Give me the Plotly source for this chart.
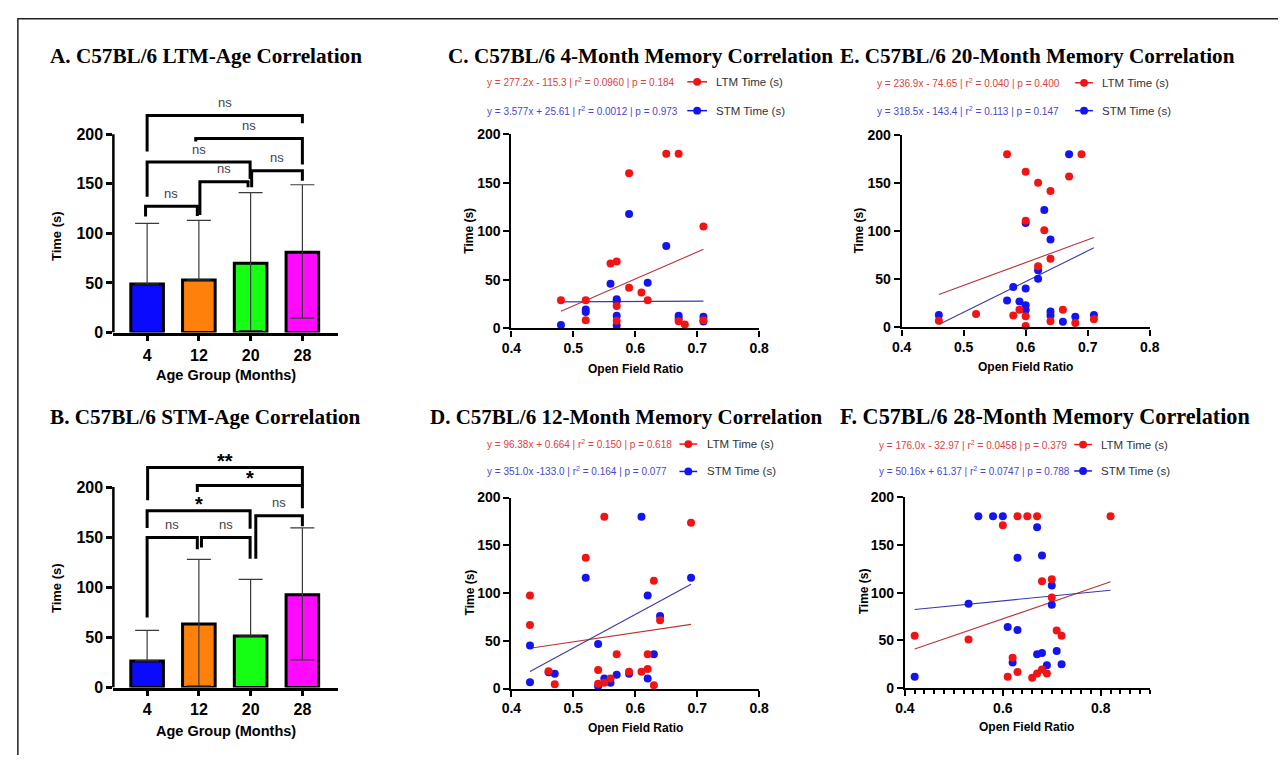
import plotly.graph_objects as go

W, H = 1288, 764


def px(x):
    return x / W


def py(y):
    return 1 - y / H


SERIF = "Liberation Serif, Times New Roman, serif"
SANS = "Liberation Sans, Arial, sans-serif"

# ---------------- data ----------------
age_groups = ["4", "12", "20", "28"]
age_pos = [0, 1, 2, 3]
bar_colors = ["#0a0aff", "#ff800a", "#14ff14", "#ff0aff"]

ltm_mean = [49, 53, 70, 81]
ltm_err_up = [61, 60, 71, 68]
ltm_err_down = [0, 0, 68, 66.5]

stm_mean = [26.6, 63.4, 51.4, 92.7]
stm_err_up = [30.4, 64.4, 56.6, 66.6]
stm_err_down = [0, 61.8, 0, 65.1]

# significance brackets: (left group, right group, bracket height, left leg end, right leg end, label)
ltm_brackets = [
    (0.0, 3.0, 218.7, 182.6, 211.0, "ns"),
    (0.94, 3.0, 195.7, 192.5, 169.5, "ns"),
    (0.0, 1.99, 172.0, 137.0, 154.7, "ns"),
    (2.02, 3.0, 163.0, 146.5, 153.0, "ns"),
    (1.02, 1.95, 152.0, 118.5, 146.5, "ns"),
    (-0.03, 0.97, 127.4, 117.0, 117.5, "ns"),
]
stm_brackets = [
    (0.01, 3.0, 219.5, 187.0, 201.6, "**"),
    (0.97, 3.0, 201.6, 195.0, 178.8, "*"),
    (0.0, 1.99, 176.3, 159.3, 158.4, "*"),
    (2.1, 3.0, 171.4, 128.5, 161.0, "ns"),
    (0.0, 0.97, 149.6, 70.0, 138.0, "ns"),
    (1.05, 1.99, 149.6, 139.8, 128.5, "ns"),
]

# 4-month
c_ltm_x = [0.48, 0.52, 0.52, 0.56, 0.57, 0.57, 0.57, 0.59, 0.59, 0.61, 0.62, 0.65, 0.67, 0.67, 0.68, 0.71, 0.71]
c_ltm_y = [29, 29, 8.5, 67, 69, 23, 8, 160, 42, 37, 29, 180, 180, 7.5, 4, 105, 8.5]
c_stm_x = [0.48, 0.52, 0.52, 0.56, 0.57, 0.57, 0.57, 0.57, 0.59, 0.62, 0.65, 0.67, 0.67, 0.71, 0.71]
c_stm_y = [3.5, 19.5, 17, 46, 30, 28, 13, 3, 118, 47, 85, 13, 10, 12, 7]
c_fit = {"ltm": (277.2, -115.3), "stm": (3.577, 25.61)}
c_eq = ["y = 277.2x - 115.3 | r<sup>2</sup> = 0.0960 | p = 0.184",
        "y = 3.577x + 25.61 | r<sup>2</sup> = 0.0012 | p = 0.973"]

# 12-month
d_ltm_x = [0.43, 0.43, 0.46, 0.47, 0.52, 0.54, 0.54, 0.55, 0.55, 0.56, 0.57, 0.59, 0.61, 0.62, 0.62, 0.63, 0.63, 0.64, 0.69]
d_ltm_y = [97.5, 66.5, 18, 4.5, 137, 19.5, 5, 180, 6, 10.5, 36, 17.5, 17.5, 36, 20.5, 113, 3.5, 71.5, 173.5]
d_stm_x = [0.43, 0.43, 0.46, 0.47, 0.52, 0.54, 0.54, 0.55, 0.56, 0.57, 0.59, 0.61, 0.62, 0.62, 0.63, 0.64, 0.69]
d_stm_y = [45, 6.5, 17, 15.5, 116, 46.5, 2.5, 10.5, 6, 14.5, 15.5, 180, 97.5, 10.5, 36, 76, 116]
d_fit = {"ltm": (96.38, 0.664), "stm": (351.0, -133.0)}
d_eq = ["y = 96.38x + 0.664 | r<sup>2</sup> = 0.150 | p = 0.618",
        "y = 351.0x -133.0 | r<sup>2</sup> = 0.164 | p = 0.077"]

# 20-month
e_ltm_x = [0.46, 0.52, 0.57, 0.58, 0.59, 0.60, 0.60, 0.60, 0.60, 0.62, 0.62, 0.63, 0.64, 0.64, 0.64, 0.66, 0.67, 0.68, 0.69, 0.71]
e_ltm_y = [7, 14, 180, 12.5, 18.5, 162, 111, 11.5, 1.5, 150.5, 63.5, 101, 142, 71.5, 6.5, 18.5, 157, 4.5, 180, 8.5]
e_stm_x = [0.46, 0.57, 0.58, 0.59, 0.60, 0.60, 0.60, 0.60, 0.62, 0.62, 0.63, 0.64, 0.64, 0.64, 0.66, 0.67, 0.68, 0.71]
e_stm_y = [13, 28, 42, 27, 40.5, 23, 18, 108.5, 59.5, 50.5, 122, 91.5, 16.5, 12.5, 6, 180, 11, 13]
e_fit = {"ltm": (236.9, -74.65), "stm": (318.5, -143.4)}
e_eq = ["y = 236.9x - 74.65 | r<sup>2</sup> = 0.040 | p = 0.400",
        "y = 318.5x - 143.4 | r<sup>2</sup> = 0.113 | p = 0.147"]

# 28-month
f_ltm_x = [0.42, 0.53, 0.60, 0.61, 0.62, 0.63, 0.63, 0.65, 0.66, 0.67, 0.67, 0.68, 0.68, 0.69, 0.70, 0.70, 0.71, 0.72, 0.82]
f_ltm_y = [55, 51, 170.5, 12, 32, 180, 17, 180, 11, 180, 15.5, 112, 19.5, 15.5, 114, 95, 60.5, 55, 180]
f_stm_x = [0.42, 0.53, 0.55, 0.58, 0.60, 0.61, 0.62, 0.63, 0.63, 0.67, 0.67, 0.68, 0.68, 0.69, 0.70, 0.70, 0.71, 0.72]
f_stm_y = [12, 88.5, 180, 180, 180, 64, 27, 136.5, 61, 168.5, 35.5, 139, 37, 24, 107.5, 87.5, 39, 25]
f_fit = {"ltm": (176.0, -32.97), "stm": (50.16, 61.37)}
f_eq = ["y = 176.0x - 32.97 | r<sup>2</sup> = 0.0458 | p = 0.379",
        "y = 50.16x + 61.37 | r<sup>2</sup> = 0.0747 | p = 0.788"]

series_labels = ["LTM Time (s)", "STM Time (s)"]

# ---------------- styles ----------------
RED = "#f01414"
BLUE = "#1414f0"
RED_FIT = "#b8353a"
BLUE_FIT = "#3a3aa8"
RED_TXT = "#dc4040"
BLUE_TXT = "#4848cc"

fig = go.Figure()
shapes = []
annotations = []

# ---------------- bar panels ----------------
bar_panels = [
    # axis suffix, means, up, down, brackets, x px domain, y0 px, px per unit
    ("", ltm_mean, ltm_err_up, ltm_err_down, ltm_brackets, (105, 333), 332, 1.015),
    ("2", stm_mean, stm_err_up, stm_err_down, stm_brackets, (105, 333), 695, 1.025),
]
BAR_YMAX = 240
for sfx, means, up, down, brackets, xd, y0px, ppu in bar_panels:
    fig.add_trace(go.Bar(
        x=age_pos, y=means, width=0.63,
        marker=dict(color=bar_colors, line=dict(color="black", width=3)),
        error_y=dict(type="data", symmetric=False, array=up, arrayminus=down,
                     color="#3a3a3a", thickness=1.2, width=12),
        xaxis="x" + sfx, yaxis="y" + sfx, showlegend=False,
    ))
    top_px = y0px - BAR_YMAX * ppu
    fig.update_layout(**{
        "xaxis" + sfx: dict(domain=[px(xd[0]), px(xd[1])], range=[-0.652, 3.685],
                            anchor="y" + sfx, tickvals=age_pos, ticktext=age_groups,
                            showline=True, linecolor="black", linewidth=2.5,
                            ticks="outside", ticklen=6, tickwidth=2.5, tickcolor="black",
                            tickfont=dict(family=SANS, size=16, color="black", weight="bold"),
                            showgrid=False, zeroline=False, fixedrange=True),
        "yaxis" + sfx: dict(domain=[py(y0px), py(top_px)], range=[0, BAR_YMAX],
                            anchor="x" + sfx, tickvals=[0, 50, 100, 150, 200],
                            showline=False, ticks="outside", ticklen=6, tickwidth=2.5,
                            tickcolor="black",
                            tickfont=dict(family=SANS, size=16, color="black", weight="bold"),
                            showgrid=False, zeroline=False, fixedrange=True),
    })
    xr = "x" + sfx
    yr = "y" + sfx
    shapes.append(dict(type="line", xref=xr + " domain", yref=yr, x0=0, x1=0, y0=0, y1=200,
                       line=dict(color="black", width=2.5)))
    for xl, xrr, yb, yl, yrr, lab in brackets:
        shapes.append(dict(type="path", xref=xr, yref=yr,
                           path=f"M {xl},{yl} L {xl},{yb} L {xrr},{yb} L {xrr},{yrr}",
                           line=dict(color="black", width=3)))
        if lab == "ns":
            annotations.append(dict(x=(xl + xrr) / 2, y=yb + 13, xref=xr, yref=yr, text="ns",
                                    showarrow=False, yanchor="middle",
                                    font=dict(family=SANS, size=13, color="#444")))
        else:
            annotations.append(dict(x=(xl + xrr) / 2, y=yb + 7, xref=xr, yref=yr, text=lab,
                                    showarrow=False, yanchor="middle",
                                    font=dict(family=SANS, size=20, color="black", weight="bold")))

# ---------------- scatter panels ----------------
scatter_panels = [
    # sfx, ltm x, ltm y, stm x, stm y, fits, x dom px, y0 px, y200 px, xrange, dtick, minor
    ("3", c_ltm_x, c_ltm_y, c_stm_x, c_stm_y, c_fit, (509.3, 761), 327.7, 129.3, [0.4, 0.8], 0.1, False),
    ("4", d_ltm_x, d_ltm_y, d_stm_x, d_stm_y, d_fit, (509.3, 761), 696, 500.7, [0.4, 0.8], 0.1, False),
    ("5", e_ltm_x, e_ltm_y, e_stm_x, e_stm_y, e_fit, (905.7, 1157.7), 326.7, 130, [0.4, 0.8], 0.1, False),
    ("6", f_ltm_x, f_ltm_y, f_stm_x, f_stm_y, f_fit, (909, 1157.7), 695.7, 500.3, [0.4, 0.9], 0.2, True),
]
for sfx, lx, ly, sx, sy, fits, xd, y0px, y200px, xrng, dt, minor in scatter_panels:
    xa, ya = "x" + sfx, "y" + sfx
    xmin = min(lx + sx)
    xmax = max(lx + sx)
    for key, col in (("ltm", RED_FIT), ("stm", BLUE_FIT)):
        m, b = fits[key]
        fig.add_trace(go.Scatter(x=[xmin, xmax], y=[m * xmin + b, m * xmax + b], mode="lines",
                                 line=dict(color=col, width=1.1), xaxis=xa, yaxis=ya,
                                 showlegend=False, hoverinfo="skip"))
    fig.add_trace(go.Scatter(x=sx, y=sy, mode="markers", marker=dict(color=BLUE, size=8),
                             xaxis=xa, yaxis=ya, cliponaxis=False, showlegend=False,
                             name=series_labels[1]))
    fig.add_trace(go.Scatter(x=lx, y=ly, mode="markers", marker=dict(color=RED, size=8),
                             xaxis=xa, yaxis=ya, cliponaxis=False, showlegend=False,
                             name=series_labels[0]))
    xaxis = dict(domain=[px(xd[0]), px(xd[1])], range=xrng, anchor=ya,
                 tick0=0.4, dtick=dt, tickformat=".1f",
                 showline=True, linecolor="black", linewidth=2.2,
                 ticks="outside", ticklen=6, tickwidth=2, tickcolor="black",
                 tickfont=dict(family=SANS, size=14, color="black", weight="bold"),
                 showgrid=False, zeroline=False, fixedrange=True)
    if minor:
        xaxis["minor"] = dict(dtick=0.02, ticks="outside", ticklen=4, tickwidth=1.5,
                              tickcolor="black", showgrid=False)
    fig.update_layout(**{
        "xaxis" + sfx: xaxis,
        "yaxis" + sfx: dict(domain=[py(y0px), py(y200px)], range=[0, 200], anchor=xa,
                            dtick=50, showline=True, linecolor="black", linewidth=2.2,
                            ticks="outside", ticklen=6, tickwidth=2, tickcolor="black",
                            tickfont=dict(family=SANS, size=14, color="black", weight="bold"),
                            showgrid=False, zeroline=False, fixedrange=True),
    })

# ---------------- titles ----------------
titles = [
    ("A. C57BL/6 LTM-Age Correlation", 39, 49, 21.2),
    ("B. C57BL/6 STM-Age Correlation", 39, 418, 21.2),
    ("C. C57BL/6 4-Month Memory Correlation", 443, 49, 21.2),
    ("D. C57BL/6 12-Month Memory Correlation", 425, 418, 21.0),
    ("E. C57BL/6 20-Month Memory Correlation", 841, 49, 21.2),
    ("F. C57BL/6 28-Month Memory Correlation", 841, 418, 22.2),
]
for t, x, y, s in titles:
    annotations.append(dict(x=px(x), y=py(y), xref="paper", yref="paper", text=t,
                            showarrow=False, xanchor="left", yanchor="middle",
                            font=dict(family=SERIF, size=s, color="black", weight="bold")))

# ---------------- axis titles ----------------
ytitles = [(48, 233, 13), (48, 593, 13), (466, 228, 12), (467, 598, 12), (862, 228, 12), (867, 597, 12)]
for x, y, s in ytitles:
    annotations.append(dict(x=px(x), y=py(y), xref="paper", yref="paper", text="Time (s)",
                            showarrow=False, textangle=-90, xanchor="center", yanchor="middle",
                            font=dict(family=SANS, size=s, color="black", weight="bold")))
xtitles = [("Age Group (Months)", 219, 375, 14.5), ("Age Group (Months)", 219, 739, 14.5),
           ("Open Field Ratio", 635, 369, 12), ("Open Field Ratio", 635, 736, 12),
           ("Open Field Ratio", 1032, 367, 12), ("Open Field Ratio", 1033, 735, 12)]
for t, x, y, s in xtitles:
    annotations.append(dict(x=px(x), y=py(y), xref="paper", yref="paper", text=t,
                            showarrow=False, xanchor="center", yanchor="middle",
                            font=dict(family=SANS, size=s, color="black", weight="bold")))

# ---------------- equation text + legend keys ----------------
legend_blocks = [
    # equations, eq x, red y, blue y, key line x0, x1, label x
    (c_eq, 482, 75.5, 105, 688, 708, 715),
    (d_eq, 482, 446, 474, 680, 698, 706),
    (e_eq, 879, 76.5, 105, 1082, 1100, 1107),
    (f_eq, 881, 446.5, 473.5, 1081, 1099, 1106),
]
for eqs, ex, yr_, yb_, k0, k1, lx in legend_blocks:
    for txt, yy, tcol, kcol, lab in ((eqs[0], yr_, RED_TXT, RED, series_labels[0]),
                                     (eqs[1], yb_, BLUE_TXT, BLUE, series_labels[1])):
        annotations.append(dict(x=px(ex), y=py(yy), xref="paper", yref="paper", text=txt,
                                showarrow=False, xanchor="left", yanchor="middle",
                                font=dict(family=SANS, size=10, color=tcol)))
        annotations.append(dict(x=px(lx), y=py(yy), xref="paper", yref="paper", text=lab,
                                showarrow=False, xanchor="left", yanchor="middle",
                                font=dict(family=SANS, size=11.5, color="#333")))
        shapes.append(dict(type="line", xref="paper", yref="paper", x0=px(k0), x1=px(k1),
                           y0=py(yy), y1=py(yy), line=dict(color=kcol, width=1.5)))
        cx = (k0 + k1) / 2
        shapes.append(dict(type="circle", xref="paper", yref="paper",
                           x0=px(cx - 4), x1=px(cx + 4), y0=py(yy + 4), y1=py(yy - 4),
                           fillcolor=kcol, line=dict(width=0)))

# ---------------- frame ----------------
shapes.append(dict(type="path", xref="paper", yref="paper",
                   path=f"M {px(8)},{py(H)} L {px(8)},{py(11)} L {px(W)},{py(11)}",
                   line=dict(color="#222", width=1.5)))

fig.update_layout(width=W, height=H, margin=dict(l=0, r=0, t=0, b=0),
                  paper_bgcolor="white", plot_bgcolor="white",
                  shapes=shapes, annotations=annotations, showlegend=False)

fig.write_html("out.html")
